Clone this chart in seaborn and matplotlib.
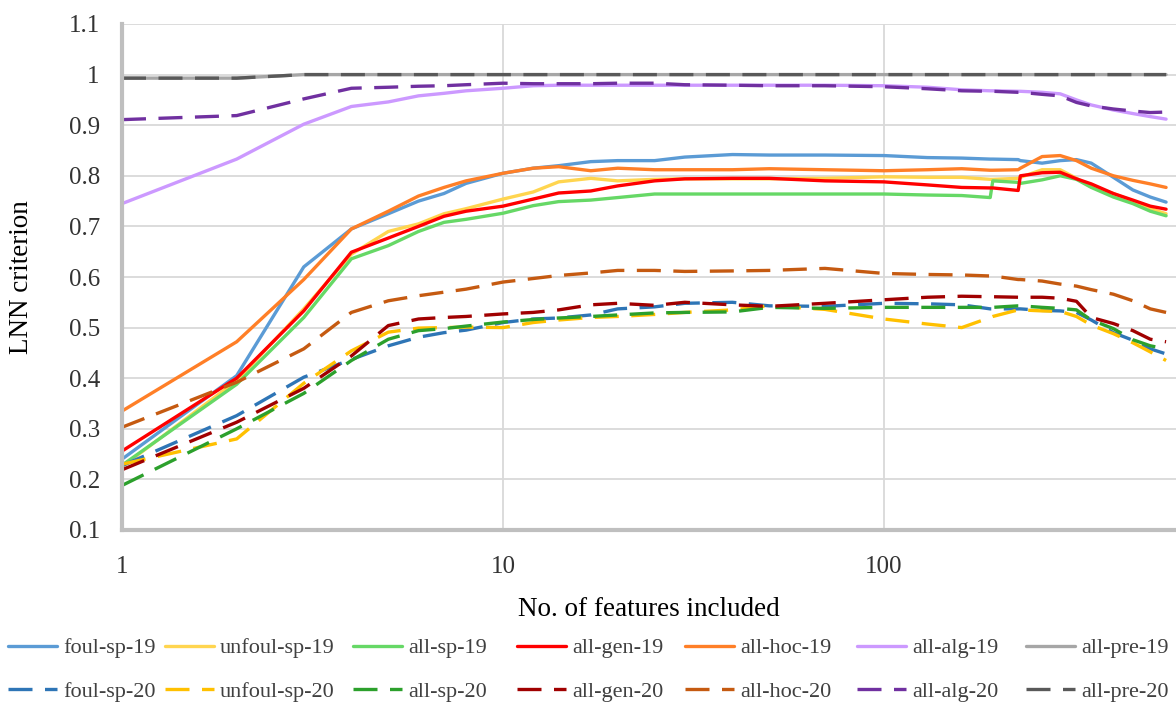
import numpy as np
import pandas as pd
import matplotlib
matplotlib.use("Agg")
import matplotlib.pyplot as plt
from matplotlib.lines import Line2D
from matplotlib.ticker import NullLocator
import seaborn as sns

# ---------------- data ----------------
n_features = [1, 2, 3, 4, 5, 6, 7, 8, 10, 12, 14, 17, 20, 25, 30, 40, 50, 70,
              100, 130, 160, 190, 193, 225, 228, 260, 290, 320, 350, 400, 450, 500, 550]

foul_sp_19 = [0.240, 0.405, 0.620, 0.695, 0.725, 0.750, 0.765, 0.785, 0.805, 0.815, 0.820, 0.828, 0.830, 0.830, 0.837, 0.842, 0.841, 0.841,
              0.840, 0.836, 0.835, 0.833, 0.833, 0.832, 0.830, 0.825, 0.830, 0.832, 0.825, 0.797, 0.772, 0.758, 0.748]
unfoul_sp_19 = [0.225, 0.395, 0.537, 0.645, 0.690, 0.705, 0.725, 0.735, 0.754, 0.768, 0.788, 0.795, 0.790, 0.793, 0.794, 0.794, 0.794, 0.795,
                0.798, 0.797, 0.797, 0.793, 0.793, 0.795, 0.797, 0.812, 0.812, 0.795, 0.778, 0.765, 0.750, 0.735, 0.725]
all_sp_19 = [0.228, 0.388, 0.520, 0.636, 0.662, 0.690, 0.708, 0.714, 0.726, 0.741, 0.749, 0.752, 0.757, 0.764, 0.764, 0.764, 0.764, 0.764,
             0.764, 0.762, 0.761, 0.757, 0.790, 0.787, 0.785, 0.792, 0.800, 0.793, 0.777, 0.758, 0.745, 0.730, 0.721]
all_gen_19 = [0.256, 0.400, 0.533, 0.649, 0.677, 0.700, 0.720, 0.730, 0.740, 0.754, 0.766, 0.770, 0.780, 0.790, 0.794, 0.795, 0.795, 0.790,
              0.788, 0.782, 0.777, 0.776, 0.776, 0.771, 0.800, 0.806, 0.807, 0.794, 0.784, 0.765, 0.752, 0.740, 0.734]
all_hoc_19 = [0.335, 0.472, 0.595, 0.695, 0.730, 0.760, 0.777, 0.790, 0.805, 0.815, 0.818, 0.810, 0.815, 0.812, 0.812, 0.812, 0.814, 0.812,
              0.810, 0.812, 0.814, 0.811, 0.811, 0.812, 0.815, 0.838, 0.840, 0.830, 0.815, 0.800, 0.791, 0.784, 0.777]
all_alg_19 = [0.745, 0.833, 0.902, 0.937, 0.946, 0.958, 0.963, 0.968, 0.973, 0.978, 0.979, 0.979, 0.979, 0.979, 0.979, 0.979, 0.979, 0.979,
              0.978, 0.975, 0.970, 0.968, 0.968, 0.967, 0.967, 0.965, 0.962, 0.950, 0.940, 0.930, 0.923, 0.917, 0.912]
all_pre_19 = [0.993, 0.993, 1.000, 1.000, 1.000, 1.000, 1.000, 1.000, 1.000, 1.000, 1.000, 1.000, 1.000, 1.000, 1.000, 1.000, 1.000, 1.000,
              1.000, 1.000, 1.000, 1.000, 1.000, 1.000, 1.000, 1.000, 1.000, 1.000, 1.000, 1.000, 1.000, 1.000, 1.000]

foul_sp_20 = [0.227, 0.326, 0.402, 0.437, 0.464, 0.481, 0.490, 0.495, 0.510, 0.517, 0.519, 0.525, 0.537, 0.541, 0.548, 0.550, 0.543, 0.542,
              0.548, 0.547, 0.545, 0.537, 0.537, 0.537, 0.537, 0.534, 0.533, 0.530, 0.515, 0.490, 0.475, 0.458, 0.448]
unfoul_sp_20 = [0.230, 0.280, 0.390, 0.454, 0.491, 0.499, 0.500, 0.501, 0.500, 0.510, 0.515, 0.520, 0.522, 0.526, 0.530, 0.535, 0.543, 0.536,
                0.517, 0.507, 0.500, 0.520, 0.522, 0.535, 0.535, 0.533, 0.532, 0.522, 0.505, 0.488, 0.470, 0.452, 0.435]
all_sp_20 = [0.188, 0.300, 0.370, 0.435, 0.477, 0.494, 0.498, 0.503, 0.511, 0.516, 0.519, 0.522, 0.525, 0.529, 0.530, 0.531, 0.540, 0.538,
             0.540, 0.540, 0.540, 0.540, 0.540, 0.543, 0.543, 0.540, 0.538, 0.535, 0.515, 0.498, 0.476, 0.464, 0.458]
all_gen_20 = [0.219, 0.313, 0.380, 0.444, 0.504, 0.517, 0.520, 0.522, 0.527, 0.530, 0.535, 0.545, 0.548, 0.544, 0.550, 0.545, 0.542, 0.548,
              0.555, 0.560, 0.562, 0.561, 0.561, 0.560, 0.560, 0.560, 0.558, 0.552, 0.520, 0.508, 0.494, 0.477, 0.472]
all_hoc_20 = [0.303, 0.392, 0.458, 0.530, 0.553, 0.563, 0.570, 0.576, 0.590, 0.597, 0.603, 0.608, 0.613, 0.613, 0.611, 0.612, 0.613, 0.617,
              0.607, 0.605, 0.604, 0.602, 0.602, 0.595, 0.595, 0.592, 0.586, 0.582, 0.575, 0.566, 0.553, 0.537, 0.530]
all_alg_20 = [0.911, 0.919, 0.952, 0.973, 0.975, 0.977, 0.978, 0.980, 0.983, 0.982, 0.982, 0.982, 0.983, 0.983, 0.980, 0.979, 0.978, 0.978,
              0.976, 0.972, 0.968, 0.967, 0.967, 0.965, 0.965, 0.961, 0.958, 0.945, 0.938, 0.932, 0.928, 0.925, 0.926]
all_pre_20 = [0.993, 0.993, 1.000, 1.000, 1.000, 1.000, 1.000, 1.000, 1.000, 1.000, 1.000, 1.000, 1.000, 1.000, 1.000, 1.000, 1.000, 1.000,
              1.000, 1.000, 1.000, 1.000, 1.000, 1.000, 1.000, 1.000, 1.000, 1.000, 1.000, 1.000, 1.000, 1.000, 1.000]

names_19 = ["foul-sp-19", "unfoul-sp-19", "all-sp-19", "all-gen-19", "all-hoc-19", "all-alg-19", "all-pre-19"]
names_20 = ["foul-sp-20", "unfoul-sp-20", "all-sp-20", "all-gen-20", "all-hoc-20", "all-alg-20", "all-pre-20"]
values_19 = [foul_sp_19, unfoul_sp_19, all_sp_19, all_gen_19, all_hoc_19, all_alg_19, all_pre_19]
values_20 = [foul_sp_20, unfoul_sp_20, all_sp_20, all_gen_20, all_hoc_20, all_alg_20, all_pre_20]

colors_19 = ["#5B9BD5", "#FFD54F", "#66D866", "#FF0000", "#FF7F27", "#CC99FF", "#A6A6A6"]
colors_20 = ["#2E75B6", "#FFC000", "#2CA02C", "#A00000", "#C55A11", "#7030A0", "#595959"]

x_ticks = [1, 10, 100]
x_tick_labels = ["1", "10", "100"]
y_ticks = [0.1, 0.2, 0.3, 0.4, 0.5, 0.6, 0.7, 0.8, 0.9, 1.0, 1.1]
y_tick_labels = ["0.1", "0.2", "0.3", "0.4", "0.5", "0.6", "0.7", "0.8", "0.9", "1", "1.1"]

# ---------------- long-form table ----------------
rows = []
for name, vals in zip(names_19 + names_20, values_19 + values_20):
    for xv, yv in zip(n_features, vals):
        rows.append({"features": xv, "value": yv, "series": name})
df = pd.DataFrame(rows)

order = names_19 + names_20
palette = dict(zip(order, colors_19 + colors_20))
DASH = (7.2, 3.75)
dash_map = {n: "" for n in names_19}
dash_map.update({n: DASH for n in names_20})

# ---------------- style ----------------
sns.set_theme(style="white")
plt.rcParams["font.family"] = ["Liberation Serif", "DejaVu Serif"]
plt.rcParams["lines.solid_capstyle"] = "round"
plt.rcParams["lines.dash_capstyle"] = "butt"

W, H = 1176, 702
fig = plt.figure(figsize=(W / 100, H / 100), dpi=100)
ax = fig.add_axes([122 / W, 1 - 530 / H, 1054 / W, 506 / H])

LW = 2.4
sns.lineplot(data=df, x="features", y="value", hue="series", style="series",
             hue_order=order, style_order=order, palette=palette, dashes=dash_map,
             linewidth=LW, estimator=None, errorbar=None, legend=False, ax=ax)

ax.set_xscale("log")
ax.set_xlim(1, 584)
ax.set_ylim(0.1, 1.1)
ax.set_xticks(x_ticks)
ax.set_xticklabels(x_tick_labels)
ax.xaxis.set_minor_locator(NullLocator())
ax.set_yticks(y_ticks)
ax.set_yticklabels(y_tick_labels)

ax.set_axisbelow(True)
ax.grid(True, which="major", color="#D9D9D9", linewidth=1.3)
for s in ["top", "right"]:
    ax.spines[s].set_visible(False)
for s in ["left", "bottom"]:
    ax.spines[s].set_color("#BFBFBF")
    ax.spines[s].set_linewidth(3)

ax.tick_params(axis="both", length=0, labelsize=18, colors="#333333")
ax.tick_params(axis="x", pad=19)
ax.tick_params(axis="y", pad=16)

ax.set_xlabel("No. of features included", fontsize=19.5, color="black")
ax.set_ylabel("LNN criterion", fontsize=19.5, color="black")
ax.xaxis.set_label_coords(0.5, (530 - 610) / 506)
ax.xaxis.label.set_va("center")
ax.yaxis.set_label_coords((22 - 122) / 1054, 0.5)
ax.yaxis.label.set_va("center")

# ---------------- legend: 7 columns of (19, 20) ----------------
col_x = [8, 165, 353, 517, 685, 857, 1026]
for i in range(7):
    h19 = Line2D([], [], color=colors_19[i], linewidth=LW)
    h20 = Line2D([], [], color=colors_20[i], linewidth=LW, linestyle=(0, DASH))
    leg = fig.legend(handles=[h19, h20], labels=[names_19[i], names_20[i]],
                     loc="center left", bbox_to_anchor=(col_x[i] / W, 1 - 670 / H),
                     frameon=False, fontsize=16, handlelength=2.2, handletextpad=0.27,
                     labelspacing=1.05, borderpad=0, borderaxespad=0)
    for t in leg.get_texts():
        t.set_color("#404040")

fig.savefig("out.png", dpi=100)
